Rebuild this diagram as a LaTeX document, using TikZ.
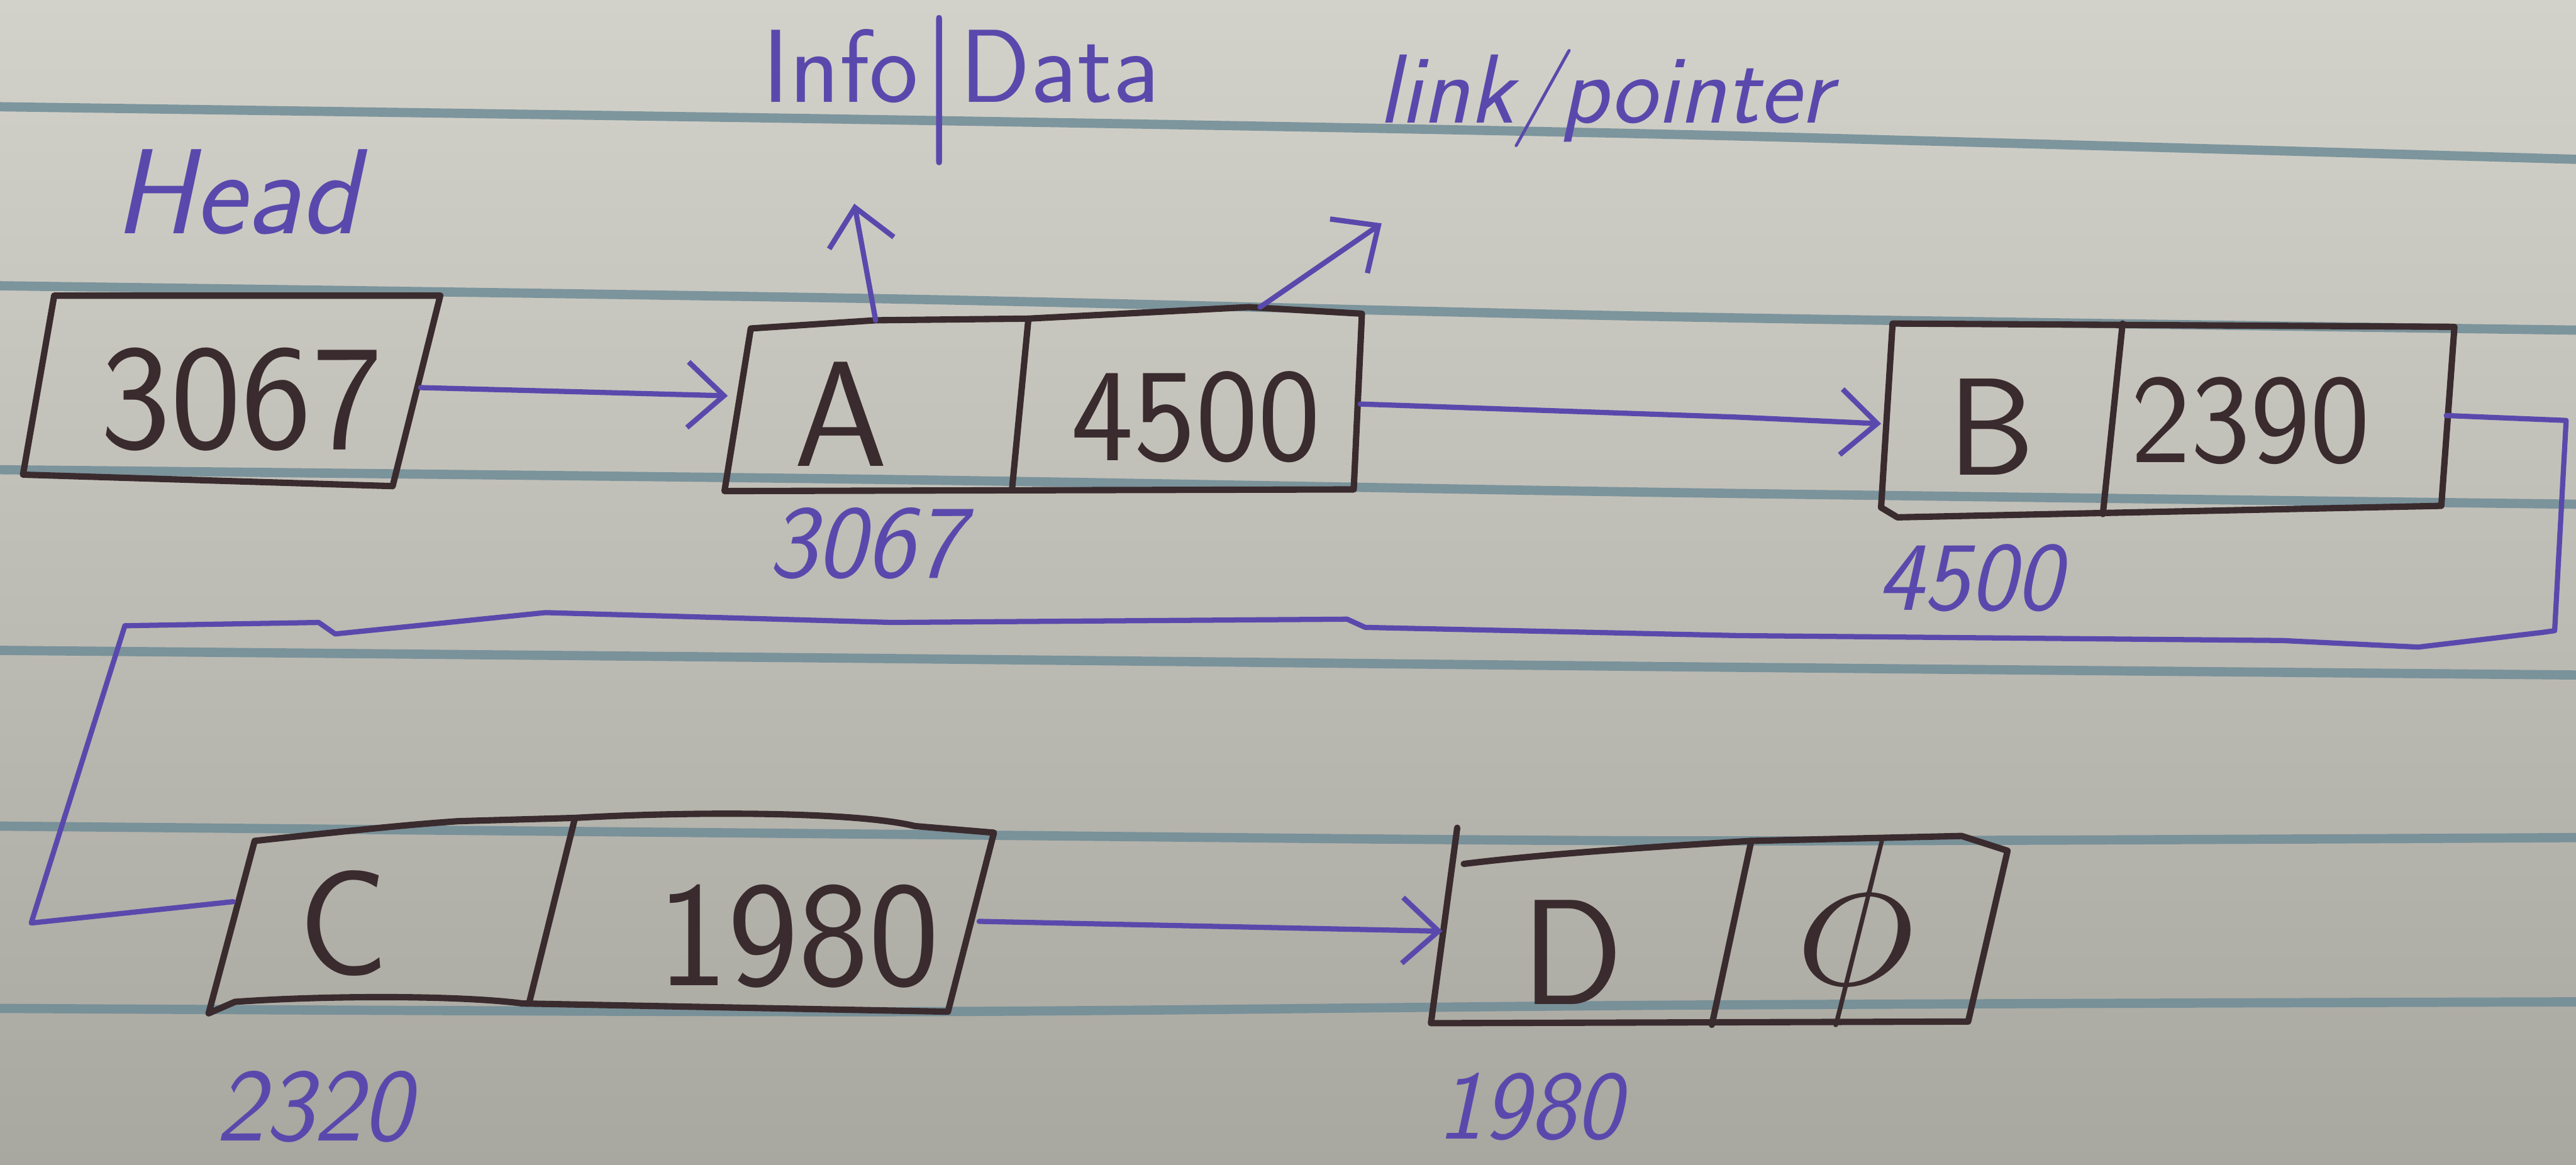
\documentclass[tikz,border=0pt]{standalone}
\usepackage{fontspec}
\usepackage{graphicx}
\usetikzlibrary{arrows.meta}

\definecolor{papertop}{HTML}{D3D2CA}
\definecolor{paperbot}{HTML}{A8A7A0}
\definecolor{rulecol}{HTML}{6F8C96}
\definecolor{pen}{HTML}{3A2B2E}
\definecolor{ink}{HTML}{5A49AC}

\tikzset{
  ruling/.style={rulecol, line width=1.6pt, opacity=0.85},
  boxline/.style={draw=pen, line width=1.1pt, line join=round, line cap=round},
  link/.style={ink, line width=0.9pt, line join=round, line cap=round},
  arrowed/.style={-{Straight Barb[length=2.2mm,width=4mm,line width=0.9pt]}},
  cell/.style={text=pen, inner sep=0pt, font=\sffamily\fontsize{#1}{#1}\selectfont},
  cell/.default=26,
  addr/.style={text=ink, inner sep=0pt, font=\sffamily\itshape\fontsize{#1}{#1}\selectfont},
  addr/.default=19,
}

\begin{document}
\begin{tikzpicture}[x=0.1mm, y=-0.1mm]
  % paper
  \shade[top color=papertop, bottom color=paperbot] (0,0) rectangle (1568,709);
  \useasboundingbox (0,0) rectangle (1568,709);

  % ruled lines of the notebook page
  \draw[ruling] plot[smooth] coordinates {(0,65) (543,73) (1025,82) (1568,97)};
  \draw[ruling] plot[smooth] coordinates {(0,174) (543,182) (1025,193) (1568,201)};
  \draw[ruling] plot[smooth] coordinates {(0,286) (543,292) (1025,300) (1568,307)};
  \draw[ruling] plot[smooth] coordinates {(0,396) (543,401) (1025,406) (1568,411)};
  \draw[ruling] plot[smooth] coordinates {(0,503) (543,508) (1025,512) (1568,510)};
  \draw[ruling] plot[smooth] coordinates {(0,614) (543,616) (1025,612) (1568,610)};

  % head pointer box
  \draw[boxline] (33,180) -- (268,180) -- (239,296) -- (14,289) -- cycle;
  \node[cell] (head) at (147,243) {3067};
  \node[addr=21] (headlbl) at (144,117) {Head};

  % node A
  \draw[boxline] (457,200) -- (533,195) -- (626,194) -- (760,187) -- (829,191)
                 -- (824,298) -- (441,299) -- cycle;
  \draw[boxline] (626,194) -- (616,298);
  \node[cell] (a) at (512,252) {A};
  \node[cell=23] (anext) at (728,254) {4500};
  \node[addr=18] (aaddr) at (527,331) {3067};

  % node B
  \draw[boxline] (1152,197) -- (1494,199) -- (1486,308) -- (1155,315) -- (1145,309) -- cycle;
  \draw[boxline] (1292,197) -- (1280,313);
  \node[cell=24] (b) at (1212,260) {B};
  \node[cell=22] (bnext) at (1370,256) {2390};
  \node[addr=17] (baddr) at (1199,352) {4500};

  % node C
  \draw[boxline] (155,512) .. controls (220,505) and (250,502) .. (279,500)
                 -- (350,498) .. controls (420,494) and (520,494) .. (557,503)
                 -- (605,507) -- (577,616) -- (318,611)
                 .. controls (280,606) and (200,606) .. (143,610) -- (127,617) -- cycle;
  \draw[boxline] (350,498) -- (322,611);
  \node[cell] (c) at (209,562) {C};
  \node[cell] (cnext) at (486,570) {1980};
  \node[addr=18] (caddr) at (191,674) {2320};

  % node D
  \draw[boxline] (887,504) -- (871,623) -- (1198,622) -- (1222,518) -- (1194,509)
                 -- (1066,512) .. controls (1000,516) and (940,520) .. (891,526);
  \draw[boxline] (1066,512) -- (1042,624);
  \node[cell] (d) at (957,580) {D};
  \node[cell] (dnext) at (1129,568) {\scalebox{1.45}{$\phi$}};
  \node[addr=17] (daddr) at (931,674) {1980};

  % field annotations
  \node[addr=18, font=\sffamily\fontsize{18}{18}\selectfont] (info) at (585,55)
    {Info\raisebox{-0.25em}{\fontsize{26}{26}\selectfont|}Data};
  \node[addr=17, font=\sffamily\itshape\fontsize{17}{17}\selectfont] (ptr) at (977,60) {link/pointer};

  % edge points of the boxes
  \coordinate (hdE) at (256,236);
  \coordinate (aW)  at (443,241);
  \coordinate (aE)  at (828,246);
  \coordinate (bW)  at (1145,258);
  \coordinate (bE)  at (1489,253);
  \coordinate (cW)  at (142,549);
  \coordinate (cE)  at (596,561);
  \coordinate (dW)  at (878,567);
  \coordinate (aTop)  at (533,195);
  \coordinate (aTopR) at (767,187);
  \coordinate (infoTip) at (520,124);
  \coordinate (ptrTip)  at (841,136);

  % links
  \draw[link, arrowed] (hdE) -- (aW);
  \draw[link, arrowed] (aE) -- (1058,254) -- (bW);
  \draw[link] (bE) -- (1562,256) -- (1555,384) -- (1548,385) -- (1472,394)
              -- (1389,390) -- (1058,387) -- (831,382) -- (820,377) -- (543,379)
              -- (332,373) -- (204,386) -- (194,379) -- (76,381) -- (19,562) -- (cW);
  \draw[link, arrowed] (cE) -- (dW);

  % annotation arrows
  \draw[link, arrowed] (aTop) -- (infoTip);
  \draw[link, arrowed] (aTopR) -- (ptrTip);
\end{tikzpicture}
\end{document}
